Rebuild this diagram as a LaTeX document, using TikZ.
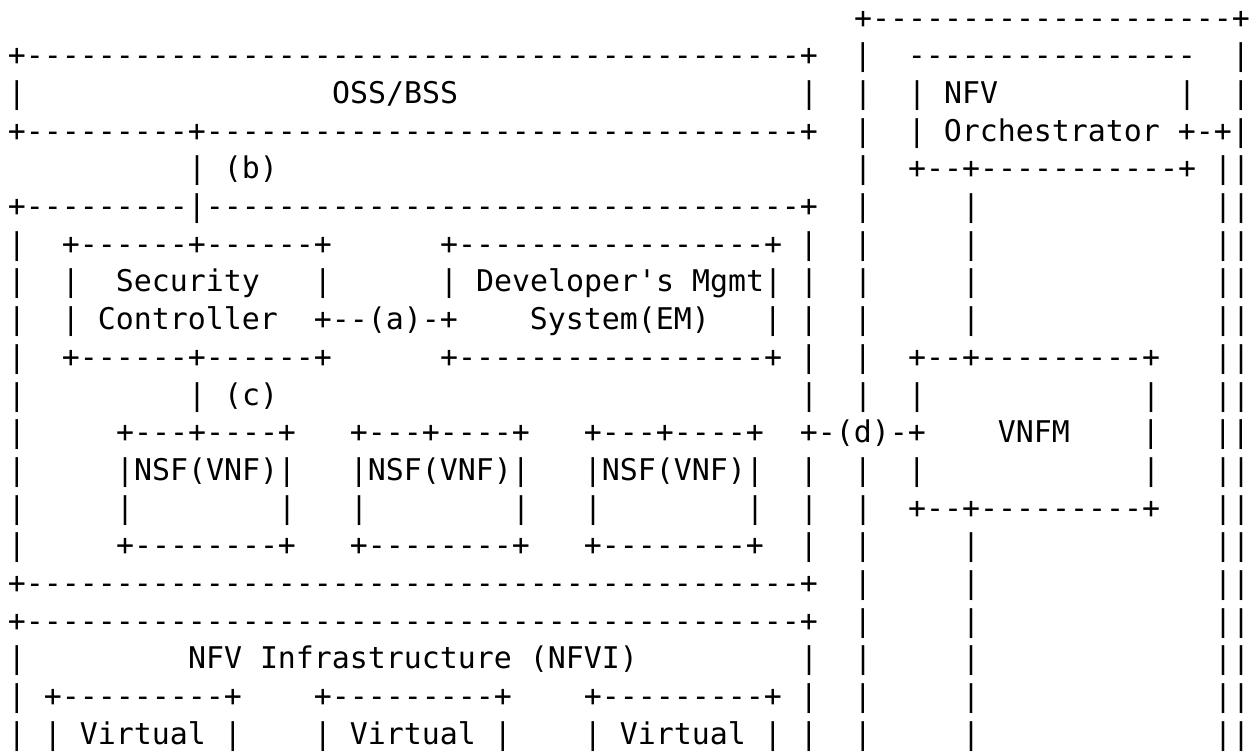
\documentclass[tikz,border=0pt]{standalone}
\usepackage{fontspec}
\setmonofont{DejaVu Sans Mono}
\ExplSyntaxOn
\cs_new:Npn \RepCh #1#2 { \prg_replicate:nn {#1} {#2} }
\ExplSyntaxOff
\newlength\cw
\setlength\cw{9pt}
\newcommand\Sp[1]{\hspace*{#1\cw}}
\newcommand\Dh[1]{\RepCh{#1}{-}}
\tikzset{
  asciirow/.style={inner sep=0pt, outer sep=0pt, anchor=base west, text=black,
    font=\ttfamily\fontsize{14.95pt}{18.85pt}\selectfont},
}
\begin{document}
\begin{tikzpicture}[x=1pt,y=1pt]
\fill[white] (0,0) rectangle (628.5,-376);
\useasboundingbox (0,0) rectangle (628.5,-376);
\def\X{4}
\node[asciirow] (r0)  at (\X,-14.00) {\Sp{47}+\Dh{20}+};
\node[asciirow] (r1)  at (\X,-32.85) {+\Dh{43}+\Sp{2}|\Sp{2}\Dh{16}\Sp{2}|};
\node[asciirow] (r2)  at (\X,-51.70) {|\Sp{17}OSS/BSS\Sp{19}|\Sp{2}|\Sp{2}|\Sp{1}NFV\Sp{10}|\Sp{2}|};
\node[asciirow] (r3)  at (\X,-70.55) {+\Dh{9}+\Dh{33}+\Sp{2}|\Sp{2}|\Sp{1}Orchestrator\Sp{1}+-+|};
\node[asciirow] (r4)  at (\X,-89.40) {\Sp{10}|\Sp{1}(b)\Sp{32}|\Sp{2}+--+\Dh{11}+\Sp{1}||};
\node[asciirow] (r5)  at (\X,-108.25) {+\Dh{9}|\Dh{33}+\Sp{2}|\Sp{5}|\Sp{13}||};
\node[asciirow] (r6)  at (\X,-127.10) {|\Sp{2}+\Dh{6}+\Dh{6}+\Sp{6}+\Dh{17}+\Sp{1}|\Sp{2}|\Sp{5}|\Sp{13}||};
\node[asciirow] (r7)  at (\X,-145.95) {|\Sp{2}|\Sp{2}Security\Sp{3}|\Sp{6}|\Sp{1}Developer's\Sp{1}Mgmt|\Sp{1}|\Sp{2}|\Sp{5}|\Sp{13}||};
\node[asciirow] (r8)  at (\X,-164.80) {|\Sp{2}|\Sp{1}Controller\Sp{2}+--(a)-+\Sp{4}System(EM)\Sp{3}|\Sp{1}|\Sp{2}|\Sp{5}|\Sp{13}||};
\node[asciirow] (r9)  at (\X,-183.65) {|\Sp{2}+\Dh{6}+\Dh{6}+\Sp{6}+\Dh{17}+\Sp{1}|\Sp{2}|\Sp{2}+--+\Dh{9}+\Sp{3}||};
\node[asciirow] (r10) at (\X,-202.50) {|\Sp{9}|\Sp{1}(c)\Sp{29}|\Sp{2}|\Sp{2}|\Sp{12}|\Sp{3}||};
\node[asciirow] (r11) at (\X,-221.35) {|\Sp{5}+---+----+\Sp{3}+---+----+\Sp{3}+---+----+\Sp{2}+-(d)-+\Sp{4}VNFM\Sp{4}|\Sp{3}||};
\node[asciirow] (r12) at (\X,-240.20) {|\Sp{5}|NSF(VNF)|\Sp{3}|NSF(VNF)|\Sp{3}|NSF(VNF)|\Sp{2}|\Sp{2}|\Sp{2}|\Sp{12}|\Sp{3}||};
\node[asciirow] (r13) at (\X,-259.05) {|\Sp{5}|\Sp{8}|\Sp{3}|\Sp{8}|\Sp{3}|\Sp{8}|\Sp{2}|\Sp{2}|\Sp{2}+--+\Dh{9}+\Sp{3}||};
\node[asciirow] (r14) at (\X,-277.90) {|\Sp{5}+\Dh{8}+\Sp{3}+\Dh{8}+\Sp{3}+\Dh{8}+\Sp{2}|\Sp{2}|\Sp{5}|\Sp{13}||};
\node[asciirow] (r15) at (\X,-296.75) {+\Dh{43}+\Sp{2}|\Sp{5}|\Sp{13}||};
\node[asciirow] (r16) at (\X,-315.60) {+\Dh{43}+\Sp{2}|\Sp{5}|\Sp{13}||};
\node[asciirow] (r17) at (\X,-334.45) {|\Sp{9}NFV\Sp{1}Infrastructure\Sp{1}(NFVI)\Sp{9}|\Sp{2}|\Sp{5}|\Sp{13}||};
\node[asciirow] (r18) at (\X,-353.30) {|\Sp{1}+\Dh{9}+\Sp{4}+\Dh{9}+\Sp{4}+\Dh{9}+\Sp{1}|\Sp{2}|\Sp{5}|\Sp{13}||};
\node[asciirow] (r19) at (\X,-372.15) {|\Sp{1}|\Sp{1}Virtual\Sp{1}|\Sp{4}|\Sp{1}Virtual\Sp{1}|\Sp{4}|\Sp{1}Virtual\Sp{1}|\Sp{1}|\Sp{2}|\Sp{5}|\Sp{13}||};
\end{tikzpicture}
\end{document}
